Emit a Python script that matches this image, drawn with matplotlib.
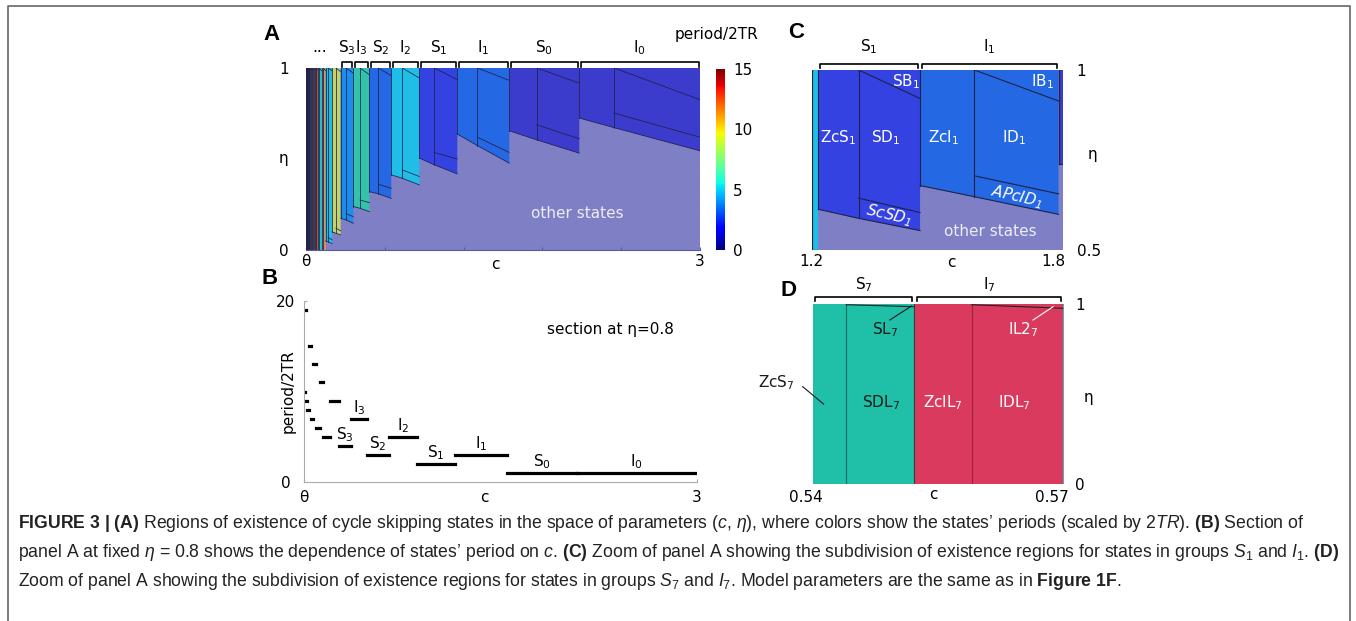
import numpy as np
import matplotlib.pyplot as plt
from matplotlib.lines import Line2D
from matplotlib.cm import ScalarMappable
from matplotlib.colors import Normalize
from matplotlib.transforms import ScaledTranslation

plt.rcParams['font.family'] = ['DejaVu Sans']
plt.rcParams['font.size'] = 11
plt.rcParams['mathtext.fontset'] = 'custom'
plt.rcParams['mathtext.rm'] = 'Liberation Sans'
plt.rcParams['mathtext.it'] = 'Liberation Sans:italic'
plt.rcParams['mathtext.bf'] = 'Liberation Sans:bold'

W, H = 1356, 621

# ---------------- panel A / B data (groups ordered along c) ----------------
groups = ['S9', 'I9', 'S8', 'I8', 'S7', 'I7', 'S6', 'I6', 'S5', 'I5',
          'S4', 'I4', 'S3', 'I3', 'S2', 'I2', 'S1', 'I1', 'S0', 'I0']
periods = [10, 19, 9, 17, 8, 15, 7, 13, 6, 11, 5, 9, 4, 7, 3, 5, 2, 3, 1, 1]
c_edges = [0.500, 0.505, 0.510, 0.516, 0.522, 0.531, 0.544, 0.558, 0.575, 0.600,
           0.624, 0.666, 0.720, 0.800, 0.902, 1.041, 1.219, 1.460, 1.790, 2.234, 3.0]
c_mid = [0.502, 0.507, 0.512, 0.519, 0.526, 0.537, 0.550, 0.566, 0.584, 0.610,
         0.640, 0.690, 0.754, 0.843, 0.959, 1.111, 1.314, 1.587, 1.964, 2.456]
eta_bot_l = [0, 0, 0, 0, 0, 0, 0, 0, 0, 0,
             0.050, 0.100, 0.174, 0.239, 0.321, 0.413, 0.505, 0.637, 0.655, 0.725]
eta_bot_m = [0, 0, 0, 0, 0, 0, 0, 0, 0, 0,
             0.045, 0.092, 0.165, 0.229, 0.308, 0.394, 0.468, 0.574, 0.605, 0.672]
eta_bot_r = [0, 0, 0, 0, 0, 0, 0, 0, 0, 0,
             0.035, 0.083, 0.147, 0.211, 0.284, 0.358, 0.418, 0.477, 0.532, 0.545]
eta_top_r = [0.99, 0.99, 0.99, 0.99, 0.99, 0.99, 0.99, 0.99, 0.985, 0.985,
             0.985, 0.980, 0.972, 0.963, 0.958, 0.945, 0.936, 0.932, 0.917, 0.826]
eta_band_m = [0, 0, 0, 0, 0, 0, 0, 0, 0, 0,
              0.070, 0.120, 0.200, 0.275, 0.361, 0.440, 0.536, 0.620, 0.688, 0.752]
eta_band_r = [0, 0, 0, 0, 0, 0, 0, 0, 0, 0,
              0.055, 0.105, 0.183, 0.260, 0.339, 0.404, 0.500, 0.536, 0.611, 0.620]
bracket_groups = ['S3', 'I3', 'S2', 'I2', 'S1', 'I1', 'S0', 'I0']

# ---------------- panel C data ----------------
zc_edges = [1.200, 1.216, 1.459, 1.790, 1.800]
zc_periods = [5, 2, 3, 1]
zc_mid = [1.200, 1.312, 1.589, 1.790]
zc_bot_l = [0.5, 0.613, 0.679, 0.739]
zc_bot_m = [0.5, 0.588, 0.648, 0.739]
zc_bot_r = [0.5, 0.554, 0.599, 0.739]
zc_top_r = [1.0, 0.921, 0.914, 1.0]
zc_band_m = [0.5, 0.644, 0.706, 0.739]
zc_band_r = [0.5, 0.604, 0.656, 0.739]
zc_brackets = ['S1', 'I1']

# ---------------- panel D data ----------------
zd_groups = ['S7', 'I7']
zd_edges = [0.5400, 0.5521, 0.5700]
zd_mid = [0.5440, 0.5590]
zd_top_r = [0.985, 0.976]

# colours of the regions by period (as they appear in the figure)
period_colors = {1: '#3b3bcc', 2: '#3342e0', 3: '#2468e3', 4: '#1e8ceb', 5: '#1ebee6',
                 6: '#28bec8', 7: '#32c3aa', 8: '#1fbfa8', 9: '#c3d269', 10: '#8a8a3a',
                 11: '#d78c5a', 13: '#c85032', 15: '#d93a5e', 17: '#6a3a22', 19: '#33241a'}
other_col = '#7f7fc6'
edge_col = '#202048'


def fx(px):
    return px / W


def fy(py):
    return 1 - py / H


def sub(name):
    return r'$\mathregular{%s_{%s}}$' % (name[0], name[1:])


def draw_regions(ax, edges, mids, bl, bm, br, tr, band_m, band_r, cols, ecol, lw=0.7):
    for i in range(len(cols)):
        cl, cm, cr = edges[i], mids[i], edges[i + 1]
        ax.fill([cl, cr, cr, cm, cl], [1, 1, br[i], bm[i], bl[i]],
                facecolor=cols[i], lw=0)
        ax.plot([cl, cl], [bl[i], 1], color=ecol, lw=lw)
        ax.plot([cm, cm], [bm[i], 1], color=ecol, lw=lw)
        ax.plot([cl, cm, cr], [bl[i], bm[i], br[i]], color=ecol, lw=lw)
        if tr[i] < 1:
            ax.plot([cm, cr], [1, tr[i]], color=ecol, lw=lw)
        if band_m[i] > bm[i]:
            ax.plot([cm, cr], [band_m[i], band_r[i]], color=ecol, lw=lw)


def brackets(ax, lefts, rights, names, y0, y1, ylab, gap):
    tr = ax.get_xaxis_transform()
    for l, r, n in zip(lefts, rights, names):
        ax.plot([l + gap, l + gap, r - gap, r - gap], [y0, y1, y1, y0], color='k',
                lw=1.2, transform=tr, clip_on=False)
        ax.text((l + r) / 2, ylab, sub(n), transform=tr, ha='center', va='center',
                fontsize=11)


def center_ticklabels(ax):
    for t in ax.get_yticklabels():
        t.set_horizontalalignment('center')


def shift_label(lbl, dx_px):
    lbl.set_transform(lbl.get_transform() + ScaledTranslation(dx_px / 100, 0, fig.dpi_scale_trans))


fig = plt.figure(figsize=(W / 100, H / 100), dpi=100)

# ---------------- panel A ----------------
ax_a = fig.add_axes([fx(306), fy(250), 394 / W, 182 / H])
ax_a.set_facecolor(other_col)
cols_a = [period_colors[p] for p in periods]
draw_regions(ax_a, c_edges, c_mid, eta_bot_l, eta_bot_m, eta_bot_r, eta_top_r,
             eta_band_m, eta_band_r, cols_a, edge_col, lw=0.55)
ax_a.set_xlim(0.5, 3)
ax_a.set_ylim(0, 1)
ax_a.set_xticks([0.5, 1, 1.5, 2, 2.5, 3])
ax_a.set_xticklabels(['θ', '', '', '', '', '3'])
ax_a.set_yticks([0, 1])
ax_a.set_yticklabels(['0', '1'])
ax_a.tick_params(axis='x', direction='in', length=2.5, color='#5a5aa8', pad=3)
ax_a.tick_params(axis='y', length=0, pad=16)
center_ticklabels(ax_a)
for s in ['top', 'right', 'left']:
    ax_a.spines[s].set_visible(False)
ax_a.spines['bottom'].set_color('#5a5aa8')
ax_a.text(0.48, -0.077, 'c', transform=ax_a.transAxes, ha='center', va='center')
ax_a.text(-0.056, 0.5, 'η', transform=ax_a.transAxes, ha='center', va='center')
ax_a.text(2.22, 0.2, 'other states', color='#ececf6', ha='center', va='center', fontsize=11)
i0 = groups.index(bracket_groups[0])
brackets(ax_a, c_edges[i0:-1], c_edges[i0 + 1:], bracket_groups, 1.005, 1.033, 1.11, 0.008)
ax_a.text(0.589, 1.11, '...', transform=ax_a.get_xaxis_transform(), ha='center',
          va='center', fontsize=11)

# colorbar
cax = fig.add_axes([fx(716), fy(250), 9 / W, 181 / H])
sm = ScalarMappable(norm=Normalize(0, 15), cmap='jet')
cb = fig.colorbar(sm, cax=cax, ticks=[0, 5, 10, 15])
cb.outline.set_visible(False)
cax.tick_params(length=0, pad=6, labelsize=11)
fig.text(fx(716.5), fy(35), 'period/2TR', ha='center', va='center', fontsize=11)

# ---------------- panel B ----------------
ax_b = fig.add_axes([fx(304), fy(482), 393 / W, 181 / H])
for i, p in enumerate(periods):
    ax_b.plot([c_edges[i], c_edges[i + 1]], [p, p], color='k', lw=2.3,
              solid_capstyle='projecting')
for n in bracket_groups:
    i = groups.index(n)
    ax_b.annotate(sub(n), ((c_edges[i] + c_edges[i + 1]) / 2, periods[i]),
                  xytext=(0, 8), textcoords='offset points', ha='center', va='center',
                  fontsize=11)
ax_b.set_xlim(0.5, 3)
ax_b.set_ylim(0, 20)
ax_b.set_xticks([0.5, 3])
ax_b.set_xticklabels(['θ', '3'])
ax_b.set_yticks([0, 20])
ax_b.tick_params(direction='in', length=2, color='#aaaaaa', pad=6)
ax_b.tick_params(axis='y', pad=13)
center_ticklabels(ax_b)
for s in ['top', 'right']:
    ax_b.spines[s].set_visible(False)
for s in ['left', 'bottom']:
    ax_b.spines[s].set_color('#aaaaaa')
    ax_b.spines[s].set_linewidth(0.8)
ax_b.text(0.46, -0.083, 'c', transform=ax_b.transAxes, ha='center', va='center')
ax_b.text(-0.041, 0.5, 'period/2TR', transform=ax_b.transAxes, rotation=90,
          ha='center', va='center')
ax_b.text(0.78, 0.84, 'section at η=0.8', transform=ax_b.transAxes, ha='center',
          va='center', fontsize=11)

# ---------------- panel C ----------------
ax_c = fig.add_axes([fx(811.7), fy(250), 251 / W, 180 / H])
ax_c.set_facecolor(other_col)
cols_c = [period_colors[p] for p in zc_periods]
draw_regions(ax_c, zc_edges, zc_mid, zc_bot_l, zc_bot_m, zc_bot_r, zc_top_r,
             zc_band_m, zc_band_r, cols_c, edge_col, lw=0.8)
ax_c.set_xlim(1.2, 1.8)
ax_c.set_ylim(0.5, 1)
ax_c.set_xticks([1.2, 1.8])
ax_c.set_xticklabels(['1.2', '1.8'])
ax_c.yaxis.tick_right()
ax_c.set_yticks([0.5, 1])
ax_c.set_yticklabels(['0.5', '1'])
ax_c.tick_params(length=0, pad=3)
ax_c.tick_params(axis='y', pad=10)
for s in ax_c.spines.values():
    s.set_visible(False)
ax_c.text(0.555, -0.067, 'c', transform=ax_c.transAxes, ha='center', va='center')
ax_c.text(1.12, 0.528, 'η', transform=ax_c.transAxes, ha='center', va='center')
wt = dict(color='white', ha='center', va='center', fontsize=11)
ax_c.text(1.263, 0.811, r'$\mathregular{ZcS_1}$', **wt)
ax_c.text(1.377, 0.811, r'$\mathregular{SD_1}$', **wt)
ax_c.text(1.516, 0.811, r'$\mathregular{ZcI_1}$', **wt)
ax_c.text(1.684, 0.811, r'$\mathregular{ID_1}$', **wt)
ax_c.text(1.425, 0.969, r'$\mathregular{SB_1}$', **wt)
ax_c.text(1.751, 0.969, r'$\mathregular{IB_1}$', **wt)
ax_c.text(1.385, 0.597, r'$\mathregular{ScSD_1}$', rotation=-13, style='italic', **wt)
ax_c.text(1.691, 0.647, r'$\mathregular{APcID_1}$', rotation=-13, style='italic', **wt)
ax_c.text(1.627, 0.55, 'other states', color='#ececf6', ha='center', va='center',
          fontsize=11)
brackets(ax_c, zc_edges[1:3], zc_edges[2:4], zc_brackets, 1.011, 1.033, 1.128, 0.004)

# ---------------- panel D ----------------
ax_d = fig.add_axes([fx(812.7), fy(484), 251.3 / W, 180 / H])
cols_d = ['#1fbfa8', '#d93a5e']
line_d = ['#0e6e5e', '#a01f3c']
for i in range(len(zd_groups)):
    cl, cm, cr = zd_edges[i], zd_mid[i], zd_edges[i + 1]
    ax_d.fill([cl, cr, cr, cl], [0, 0, 1, 1], facecolor=cols_d[i], lw=0)
    ax_d.plot([cm, cm], [0, 1], color=line_d[i], lw=0.8)
    ax_d.plot([cm, cr], [0.996, zd_top_r[i]], color='#222222', lw=0.8)
ax_d.plot([zd_edges[1], zd_edges[1]], [0, 1], color='#3a3a3a', lw=0.8)
ax_d.plot([zd_edges[-1], zd_edges[-1]], [0, 1], color='#30c8d0', lw=1.2)
ax_d.set_xlim(0.54, 0.57)
ax_d.set_ylim(0, 1)
ax_d.set_xticks([0.54, 0.57])
ax_d.set_xticklabels(['0.54', '0.57'])
ax_d.yaxis.tick_right()
ax_d.set_yticks([0, 1])
ax_d.set_yticklabels(['0', '1'])
ax_d.tick_params(length=0, pad=4)
ax_d.tick_params(axis='y', pad=8)
for s in ax_d.spines.values():
    s.set_visible(False)
ax_d.text(0.479, -0.06, 'c', transform=ax_d.transAxes, ha='center', va='center')
ax_d.text(1.096, 0.483, 'η', transform=ax_d.transAxes, ha='center', va='center')
dk = dict(color='#1a1a1a', ha='center', va='center', fontsize=11)
ax_d.text(0.5487, 0.856, r'$\mathregular{SL_7}$', **dk)
ax_d.text(0.5482, 0.45, r'$\mathregular{SDL_7}$', **dk)
ax_d.text(0.5357, 0.561, r'$\mathregular{ZcS_7}$', clip_on=False, **dk)
ax_d.text(0.5651, 0.856, r'$\mathregular{IL2_7}$', **wt)
ax_d.text(0.5556, 0.45, r'$\mathregular{ZcIL_7}$', **wt)
ax_d.text(0.5641, 0.45, r'$\mathregular{IDL_7}$', **wt)
ax_d.plot([0.5388, 0.5413], [0.541, 0.444], color='#1a1a1a', lw=0.8, clip_on=False)
ax_d.plot([0.5492, 0.5518], [0.911, 0.989], color='#1a1a1a', lw=0.8)
ax_d.plot([0.5663, 0.5687], [0.911, 0.985], color='white', lw=0.8)
brackets(ax_d, zd_edges[:-1], zd_edges[1:], zd_groups, 1.017, 1.039, 1.105, 0.0003)

# x tick labels of the zoom panels sit a little inside the axis ends
shift_label(ax_c.get_xticklabels()[1], -9)
shift_label(ax_d.get_xticklabels()[0], -7)
shift_label(ax_d.get_xticklabels()[1], -12)

# panel letters
for lab, x, y in [('A', 272, 35), ('B', 270, 278), ('C', 796, 33), ('D', 789, 290)]:
    fig.text(fx(x), fy(y), lab, fontsize=16, fontweight='bold', family='Liberation Sans',
             ha='center', va='center')

# caption
cap = [
    r"$\mathbf{FIGURE\ 3\ |\ (A)}$ Regions of existence of cycle skipping states in the space of "
    r"parameters ($\mathit{c}$, $\eta$), where colors show the states’ periods (scaled by "
    r"$\mathit{2TR}$). $\mathbf{(B)}$ Section of",
    r"panel A at fixed $\eta$ = 0.8 shows the dependence of states’ period on $\mathit{c}$. "
    r"$\mathbf{(C)}$ Zoom of panel A showing the subdivision of existence regions for states "
    r"in groups $S_1$ and $I_1$. $\mathbf{(D)}$",
    r"Zoom of panel A showing the subdivision of existence regions for states in groups "
    r"$S_7$ and $I_7$. Model parameters are the same as in $\mathbf{Figure\ 1F}$.",
]
for k, line in enumerate(cap):
    fig.text(fx(18), fy(524 + 28.5 * k), line, family='Liberation Sans', fontsize=12.7,
             ha='left', va='center', color='#222222')

# frame around the figure
fig.add_artist(Line2D([fx(8), fx(8), fx(1350), fx(1350)], [0, fy(6), fy(6), 0],
                      color='#666666', lw=1.2))

fig.savefig('out.png', dpi=100)
